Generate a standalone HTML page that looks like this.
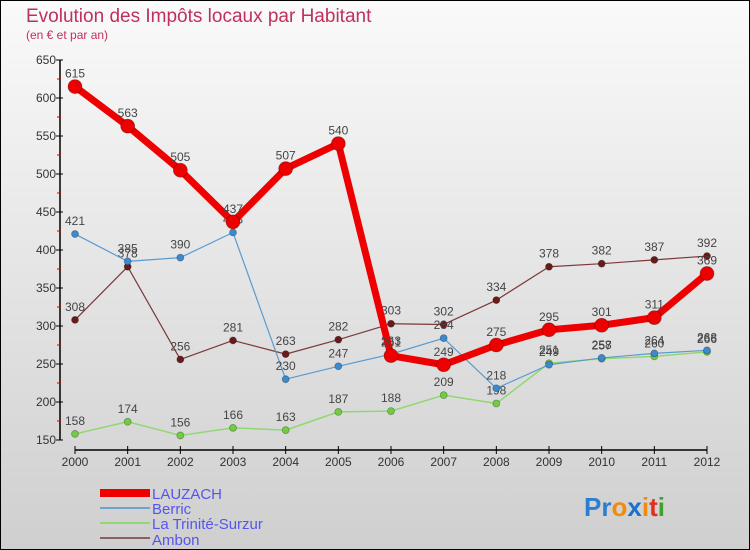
<!DOCTYPE html>
<html><head><meta charset="utf-8"><style>
body{margin:0}
svg{display:block;font-family:"Liberation Sans",sans-serif}
</style></head><body>
<svg width="750" height="550" viewBox="0 0 750 550">
<defs><linearGradient id="bg" x1="0" y1="0" x2="0" y2="1"><stop offset="0" stop-color="#fafafa"/><stop offset="1" stop-color="#cfcfcf"/></linearGradient></defs>
<rect x="0.5" y="0.5" width="749" height="549" fill="url(#bg)" stroke="#000"/>
<text x="26" y="22" font-size="19" fill="#c0305a">Evolution des Impôts locaux par Habitant</text>
<text x="26" y="39" font-size="12" fill="#c0305a">(en € et par an)</text>
<g id="axes"></g>
<g id="series"></g>
<g>
<rect x="100" y="489" width="50" height="8" fill="#e00"/>
<text x="152" y="499" font-size="15" fill="#5555ee">LAUZACH</text>
<line x1="100" y1="508" x2="150" y2="508" stroke="#6fa3cc" stroke-width="2"/>
<text x="152" y="514" font-size="15" fill="#5555ee">Berric</text>
<line x1="100" y1="523" x2="150" y2="523" stroke="#90d870" stroke-width="2"/>
<text x="152" y="529" font-size="15" fill="#5555ee">La Trinité-Surzur</text>
<line x1="100" y1="538" x2="150" y2="538" stroke="#8a6060" stroke-width="2"/>
<text x="152" y="545" font-size="15" fill="#5555ee">Ambon</text>
</g>
<g font-size="26" font-weight="bold">
<text x="584" y="516"><tspan fill="#2a7fd0">Pr</tspan><tspan fill="#f08a10">o</tspan><tspan fill="#1a6fd0">x</tspan><tspan fill="#f08a10">i</tspan><tspan fill="#e03020">t</tspan><tspan fill="#40a030">i</tspan></text>
</g>
</svg>
<script>
const years=[2000,2001,2002,2003,2004,2005,2006,2007,2008,2009,2010,2011,2012];
const lauzach=[615,563,505,437,507,540,261,249,275,295,301,311,369];
const berric=[421,385,390,423,230,247,263,284,218,249,258,264,268];
const trinite=[158,174,156,166,163,187,188,209,198,251,257,260,266];
const ambon=[308,378,256,281,263,282,303,302,334,378,382,387,392];
const yTicks=[150,200,250,300,350,400,450,500,550,600,650];
const NS="http://www.w3.org/2000/svg";
const X=i=>75+i*(707-75)/(years.length-1);
const Y=v=>440-(v-150)*0.76;
function mk(tag,attrs,parent){const e=document.createElementNS(NS,tag);for(const k in attrs)e.setAttribute(k,attrs[k]);parent.appendChild(e);return e;}
const ax=document.getElementById('axes');
let l=mk('line',{x1:60,y1:Y(650),x2:60,y2:Y(150),stroke:'#000','stroke-width':1.5},ax);


yTicks.forEach((t,i)=>{
 mk('line',{x1:56,x2:63,y1:Y(t),y2:Y(t),stroke:'#000'},ax);
 if(i<yTicks.length-1){mk('line',{x1:57,x2:61,y1:Y(t+25),y2:Y(t+25),stroke:'#d00'},ax);}
 const tx=mk('text',{x:56,y:Y(t)+4,'font-size':12,'text-anchor':'end',fill:'#333'},ax);
 tx.textContent=t;
 
 
});
l=mk('line',{x1:X(0),y1:450,x2:X(years.length-1),y2:450,stroke:'#000','stroke-width':1.5},ax);


years.forEach((yr,i)=>{
 mk('line',{x1:X(i),x2:X(i),y1:446,y2:454,stroke:'#000'},ax);
 const tx=mk('text',{x:X(i),y:466,'font-size':12,'text-anchor':'middle',fill:'#333'},ax);
 tx.textContent=yr;
 
 
});
const sg=document.getElementById('series');
function series(name,vals,color,w,r,dot){
 const g=mk('g',{},sg);
 
 
 const p=mk('polyline',{points:vals.map((v,i)=>X(i)+','+Y(v)).join(' '),fill:'none',stroke:color,'stroke-width':w,'stroke-linejoin':'round'},g);
 
 
 vals.forEach((v,i)=>{
  const c=mk('circle',{cx:X(i),cy:Y(v),r:r,fill:dot,stroke:'rgba(0,0,0,0.3)','stroke-width':0.8},g);
  
  
  const t=mk('text',{x:X(i),y:Y(v)-9,'font-size':12,'text-anchor':'middle',fill:'#444'},g);
  t.textContent=v;
  
  
 });
}
series('ambon',ambon,'#7a3a3a',1.2,3.5,'#6a1a1a');
series('trinite',trinite,'#90d870',1.5,3.5,'#70cc40');
series('berric',berric,'#5a9ad0',1.2,3.5,'#3a8ad0');
series('lauzach',lauzach,'#ee0000',7,7,'#ee0000');
</script>
</body></html>
